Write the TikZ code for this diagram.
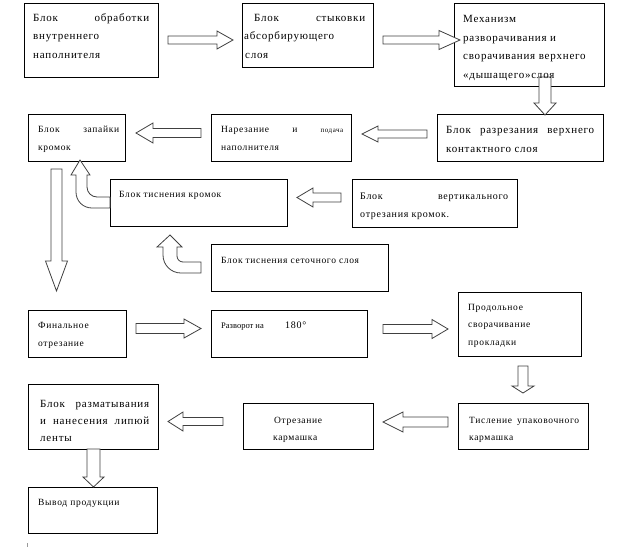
\documentclass[tikz,border=0pt]{standalone}
\usepackage{fontspec}
\setmainfont{Liberation Serif}
\newfontfamily\lsp[LetterSpace=7]{Liberation Serif}
\tikzset{
  x=1pt,y=-1pt,
  box/.style={draw=black,line width=1.1pt,anchor=north west,inner sep=0pt,fill=none},
  txt/.style={inner sep=0pt,anchor=base west,text=black},
  fa/.style={font=\lsp\fontsize{11}{13}\selectfont},
  fb/.style={font=\lsp\fontsize{10}{12}\selectfont},
  fc/.style={font=\lsp\fontsize{9.5}{11}\selectfont},
  barrow/.style={draw=black!75,line width=0.8pt,fill=white,line join=miter},
}
\newcommand\HArr[6]{\draw[barrow] (#1,#3-#4) -- (#6,#3-#4) -- (#6,#3-#5) -- (#2,#3) -- (#6,#3+#5) -- (#6,#3+#4) -- (#1,#3+#4) -- cycle;}
\newcommand\VArr[6]{\draw[barrow] (#1-#4,#2) -- (#1-#4,#6) -- (#1-#5,#6) -- (#1,#3) -- (#1+#5,#6) -- (#1+#4,#6) -- (#1+#4,#2) -- cycle;}
\newcommand\bx[5]{\node[box,minimum width=#4pt,minimum height=#5pt] (#1) at (#2,#3) {};}
\begin{document}
\begin{tikzpicture}
\useasboundingbox (0,0) rectangle (619,547);
% boxes
\bx{b1}{24}{3}{134}{74}
\bx{b2}{242}{3}{131}{64}
\bx{b3}{454}{3}{150}{83}
\bx{b4}{28}{114}{97}{47}
\bx{b5}{211}{114}{140}{47}
\bx{b6}{437}{114}{166}{47}
\bx{b7}{110}{179}{177}{47}
\bx{b8}{352}{179}{165}{48}
\bx{b9}{211}{244}{177}{47}
\bx{b10}{28}{310}{98}{47}
\bx{b11}{211}{310}{156}{47}
\bx{b12}{458}{292}{123}{64}
\bx{b13}{28}{384}{130}{65}
\bx{b14}{243}{403}{130}{46}
\bx{b15}{458}{403}{130}{46}
\bx{b16}{28}{487}{129}{46}
% straight block arrows
\HArr{168}{233}{40}{4}{9}{217}
\HArr{383}{460}{40}{4}{9.5}{439}
\VArr{545}{77}{115}{6}{11}{103}
\HArr{427}{362}{134}{4}{8}{378}
\HArr{201}{136}{133}{4.5}{10}{153}
\HArr{341}{297}{197.5}{4.5}{9.5}{313}
\VArr{56.5}{169}{291}{5.5}{11}{261}
\HArr{136}{201}{328.5}{5}{9.5}{184}
\HArr{383}{448}{329}{4.5}{9.5}{432}
\VArr{523}{366}{393}{5}{11}{386}
\HArr{448}{383}{422}{5}{10}{403}
\HArr{223}{168}{421.5}{4}{9.5}{183}
\VArr{93.5}{449}{487}{6.5}{10.5}{477}
% curved block arrows
\draw[barrow] (76,175) -- (76,192) .. controls (76,201) and (83,208) .. (92,208) -- (110,208) -- (110,197) -- (97,197) .. controls (91.5,197) and (87,192.5) .. (87,187) -- (87,175) -- (90,175) -- (80,160) -- (71,175) -- cycle;
\draw[barrow] (163,247) -- (163,255) .. controls (163,265) and (171,273) .. (181,273) -- (201,273) -- (201,262) -- (183,262) .. controls (179.7,262) and (177,259.3) .. (177,256) -- (177,247) -- (182,247) -- (170,235) -- (157,247) -- cycle;
% texts
\node[txt,fa] (t1a) at (33,21) {\hbox to 116pt{Блок\hfill обработки}};
\node[txt,fa] (t1b) at (33,39.5) {внутреннего};
\node[txt,fa] (t1c) at (33,58) {наполнителя};
\node[txt,fa] (t2a) at (254,21) {\hbox to 111pt{Блок\hfill стыковки}};
\node[txt,fa] (t2b) at (244,39.5) {абсорбирующего};
\node[txt,fa] (t2c) at (245,58) {слоя};
\node[txt,fa] (t3a) at (463,22) {Механизм};
\node[txt,fa] (t3b) at (463,41) {разворачивания и};
\node[txt,fa] (t3c) at (463,59.5) {сворачивания верхнего};
\node[txt,fa] (t3d) at (463,78) {«дышащего»слоя};
\node[txt,fc] (t4a) at (38,132) {\hbox to 81pt{Блок\hfill запайки}};
\node[txt,fc] (t4b) at (38,150) {кромок};
\node[txt,fc] (t5a) at (221,132) {\hbox to 122pt{Нарезание\hfill и\hfill {\fontsize{7}{8}\selectfont подача}}};
\node[txt,fc] (t5b) at (221,150) {наполнителя};
\node[txt,fa] (t6a) at (446,133) {\hbox to 148pt{Блок\hfill разрезания\hfill верхнего}};
\node[txt,fa] (t6b) at (446,152) {контактного слоя};
\node[txt,fc] (t7a) at (119,197) {Блок тиснения кромок};
\node[txt,fb] (t8a) at (360,199) {\hbox to 148pt{Блок\hfill вертикального}};
\node[txt,fb] (t8b) at (360,217) {отрезания кромок.};
\node[txt,fc] (t9a) at (221,263) {Блок тиснения сеточного слоя};
\node[txt,fc] (t10a) at (38,328) {Финальное};
\node[txt,fc] (t10b) at (38,346) {отрезание};
\node[txt,font=\fontsize{8.5}{10}\selectfont] (t11a) at (221,328) {Разворот на};
\node[txt,fb] (t11b) at (285,328) {180°};
\node[txt,fc] (t12a) at (468,310) {Продольное};
\node[txt,fc] (t12b) at (468,327) {сворачивание};
\node[txt,fc] (t12c) at (468,345) {прокладки};
\node[txt,fa] (t13a) at (40,407) {\hbox to 109pt{Блок\hfill разматывания}};
\node[txt,fa] (t13b) at (40,424) {\hbox to 109pt{и\hfill нанесения\hfill липюй}};
\node[txt,fa] (t13c) at (40,441) {ленты};
\node[txt,fc] (t14a) at (274,423) {Отрезание};
\node[txt,fc] (t14b) at (273,440) {кармашка};
\node[txt,fc] (t15a) at (469,423) {\hbox to 110pt{Тисление\hfill упаковочного}};
\node[txt,fc] (t15b) at (469,440) {кармашка};
\node[txt,fc] (t16a) at (38,505) {Вывод продукции};
\draw[black!40,line width=0.6pt] (27,543) -- (27,547);
\end{tikzpicture}
\end{document}
